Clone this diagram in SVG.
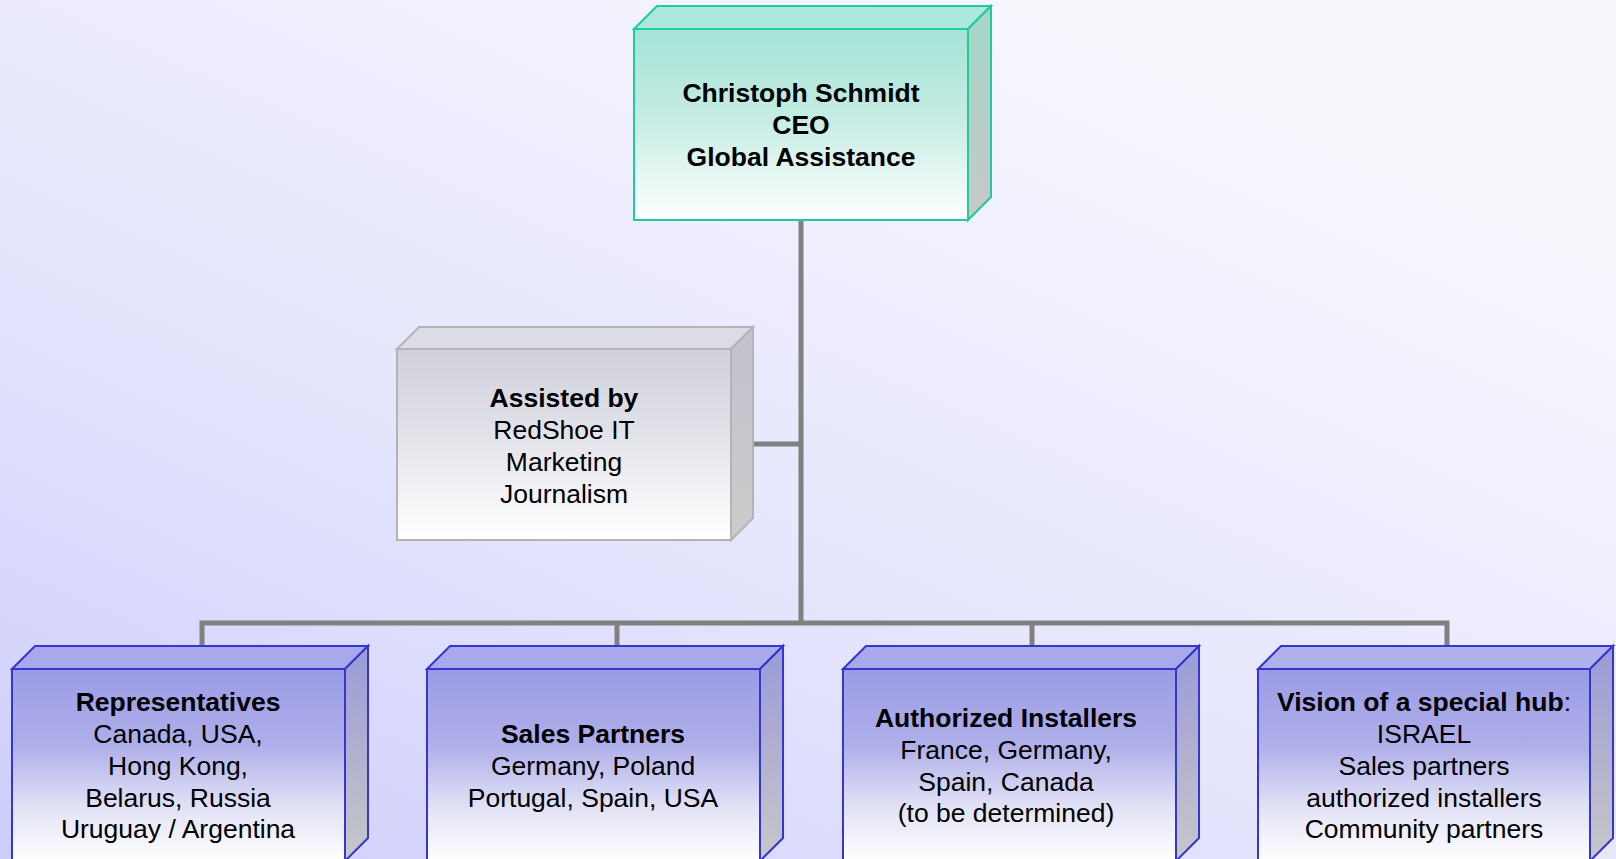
<svg xmlns="http://www.w3.org/2000/svg" width="1616" height="859" viewBox="0 0 1616 859">
<defs>
<linearGradient id="bg" x1="0" y1="1" x2="0.75" y2="0.1">
<stop offset="0" stop-color="#cdcdfc"/>
<stop offset="0.45" stop-color="#e4e4fd"/>
<stop offset="1" stop-color="#f7f7fe"/>
</linearGradient>
<linearGradient id="gFront" x1="0" y1="0" x2="0" y2="1">
<stop offset="0" stop-color="#9b9be6"/>
<stop offset="0.4" stop-color="#afafea"/>
<stop offset="0.72" stop-color="#e2e2f6"/>
<stop offset="1" stop-color="#ffffff"/>
</linearGradient>
<linearGradient id="gSide" x1="0" y1="0" x2="0" y2="1">
<stop offset="0" stop-color="#9a9ad8"/>
<stop offset="1" stop-color="#c8c8c8"/>
</linearGradient>
<linearGradient id="cFront" x1="0" y1="0" x2="0" y2="1">
<stop offset="0" stop-color="#a6e3d7"/>
<stop offset="0.45" stop-color="#c4ece3"/>
<stop offset="1" stop-color="#ffffff"/>
</linearGradient>
<linearGradient id="cSide" x1="0" y1="0" x2="0" y2="1">
<stop offset="0" stop-color="#a4d6ca"/>
<stop offset="1" stop-color="#c8c8c8"/>
</linearGradient>
<linearGradient id="aFront" x1="0" y1="0" x2="0" y2="1">
<stop offset="0" stop-color="#d1d1dd"/>
<stop offset="0.4" stop-color="#e0e0e8"/>
<stop offset="1" stop-color="#ffffff"/>
</linearGradient>
<linearGradient id="aSide" x1="0" y1="0" x2="0" y2="1">
<stop offset="0" stop-color="#c2c2ce"/>
<stop offset="1" stop-color="#cccccc"/>
</linearGradient>
</defs>
<style>
.t{font-family:"Liberation Sans",Arial,sans-serif;font-size:26.5px;fill:#000;text-anchor:middle}
.b{font-weight:bold}
.conn{stroke:#808080;stroke-width:5;fill:none}
.blue{stroke:#3535d0;stroke-width:2;stroke-linejoin:miter}
.green{stroke:#1ecb9a;stroke-width:2}
.gray{stroke:#b4b4b4;stroke-width:2}
</style>
<rect x="0" y="0" width="1616" height="859" fill="url(#bg)"/>
<g id="connectors">
<line class="conn" x1="801" y1="220" x2="801" y2="623"/>
<line class="conn" x1="731" y1="444" x2="801" y2="444"/>
<polyline class="conn" points="202,669 202,623 1447,623 1447,669"/>
<line class="conn" x1="617" y1="623" x2="617" y2="669"/>
<line class="conn" x1="1032" y1="623" x2="1032" y2="669"/>
</g>
<g id="ceo">
<polygon class="green" fill="#ace8dc" points="634,29 657,6 991,6 968,29"/>
<polygon class="green" fill="url(#cSide)" points="968,29 991,6 991,197 968,220"/>
<rect class="green" x="634" y="29" width="334" height="191" fill="url(#cFront)"/>
<text class="t b" x="801" y="102">Christoph Schmidt</text>
<text class="t b" x="801" y="134">CEO</text>
<text class="t b" x="801" y="166">Global Assistance</text>
</g>
<g id="assist">
<polygon class="gray" fill="#dcdce6" points="397,349 419,327 753,327 731,349"/>
<polygon class="gray" fill="url(#aSide)" points="731,349 753,327 753,518 731,540"/>
<rect class="gray" x="397" y="349" width="334" height="191" fill="url(#aFront)"/>
<text class="t b" x="564" y="407">Assisted by</text>
<text class="t" x="564" y="439">RedShoe IT</text>
<text class="t" x="564" y="471">Marketing</text>
<text class="t" x="564" y="503">Journalism</text>
</g>
<g id="representatives">
<polygon class="blue" fill="#a8a8ea" points="12,669 35,646 368,646 345,669"/>
<polygon class="blue" fill="url(#gSide)" points="345,669 368,646 368,838 345,861"/>
<rect class="blue" x="12" y="669" width="333" height="192" fill="url(#gFront)"/>
<text class="t b" x="178" y="711">Representatives</text>
<text class="t" x="178" y="743">Canada, USA,</text>
<text class="t" x="178" y="775">Hong Kong,</text>
<text class="t" x="178" y="807">Belarus, Russia</text>
<text class="t" x="178" y="838">Uruguay / Argentina</text>
</g>
<g id="sales">
<polygon class="blue" fill="#a8a8ea" points="427,669 450,646 783,646 760,669"/>
<polygon class="blue" fill="url(#gSide)" points="760,669 783,646 783,838 760,861"/>
<rect class="blue" x="427" y="669" width="333" height="192" fill="url(#gFront)"/>
<text class="t b" x="593" y="743">Sales Partners</text>
<text class="t" x="593" y="775">Germany, Poland</text>
<text class="t" x="593" y="807">Portugal, Spain, USA</text>
</g>
<g id="installers">
<polygon class="blue" fill="#a8a8ea" points="843,669 866,646 1199,646 1176,669"/>
<polygon class="blue" fill="url(#gSide)" points="1176,669 1199,646 1199,838 1176,861"/>
<rect class="blue" x="843" y="669" width="333" height="192" fill="url(#gFront)"/>
<text class="t b" x="1006" y="727">Authorized Installers</text>
<text class="t" x="1006" y="759">France, Germany,</text>
<text class="t" x="1006" y="791">Spain, Canada</text>
<text class="t" x="1006" y="822">(to be determined)</text>
</g>
<g id="vision">
<polygon class="blue" fill="#b0b0ec" points="1258,669 1281,646 1613,646 1590,669"/>
<polygon class="blue" fill="url(#gSide)" points="1590,669 1613,646 1613,838 1590,861"/>
<rect class="blue" x="1258" y="669" width="332" height="192" fill="url(#gFront)"/>
<text class="t" x="1424" y="711"><tspan class="b">Vision of a special hub</tspan>:</text>
<text class="t" x="1424" y="743">ISRAEL</text>
<text class="t" x="1424" y="775">Sales partners</text>
<text class="t" x="1424" y="807">authorized installers</text>
<text class="t" x="1424" y="838">Community partners</text>
</g>
</svg>
